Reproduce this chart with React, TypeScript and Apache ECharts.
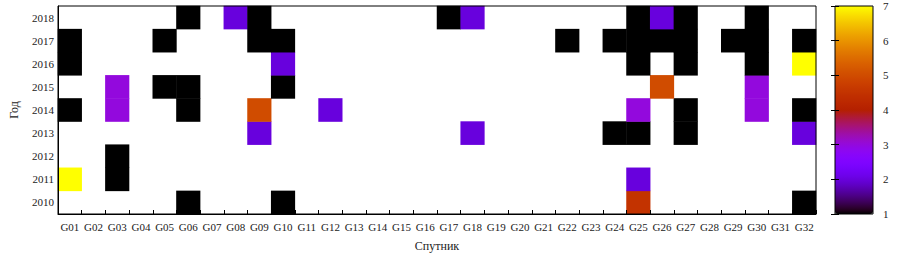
import React, { useEffect, useRef } from "react";
import * as echarts from "echarts";

const satellites = [
  "G01","G02","G03","G04","G05","G06","G07","G08","G09","G10","G11","G12","G13","G14","G15","G16",
  "G17","G18","G19","G20","G21","G22","G23","G24","G25","G26","G27","G28","G29","G30","G31","G32",
];
const years = ["2010","2011","2012","2013","2014","2015","2016","2017","2018"];

// values per year: [satellite, value]
const y2010: [string, number][] = [["G06",1],["G10",1],["G25",4.5],["G32",1]];
const y2011: [string, number][] = [["G01",7],["G03",1],["G25",2]];
const y2012: [string, number][] = [["G03",1]];
const y2013: [string, number][] = [["G09",2],["G18",2],["G24",1],["G25",1],["G27",1],["G32",2]];
const y2014: [string, number][] = [["G01",1],["G03",3],["G06",1],["G09",5],["G12",2],["G25",3],["G27",1],["G30",3],["G32",1]];
const y2015: [string, number][] = [["G03",3],["G05",1],["G06",1],["G10",1],["G26",5],["G30",3]];
const y2016: [string, number][] = [["G01",1],["G10",2],["G25",1],["G27",1],["G30",1],["G32",7]];
const y2017: [string, number][] = [["G01",1],["G05",1],["G09",1],["G10",1],["G22",1],["G24",1],["G25",1],["G26",1],["G27",1],["G29",1],["G30",1],["G32",1]];
const y2018: [string, number][] = [["G06",1],["G08",2],["G09",1],["G17",1],["G18",2],["G25",1],["G26",2],["G27",1],["G30",1]];

const byYear = [y2010, y2011, y2012, y2013, y2014, y2015, y2016, y2017, y2018];
const colorTicks = [1, 7];

function gnuplotColor(x: number): string {
  const r = Math.sqrt(x);
  const g = x * x * x;
  const b = Math.max(0, Math.sin(2 * Math.PI * x));
  const h = (v: number) => Math.round(Math.min(1, Math.max(0, v)) * 255).toString(16).padStart(2, "0");
  return "#" + h(r) + h(g) + h(b);
}

export default function App() {
  const ref = useRef<HTMLDivElement>(null);
  useEffect(() => {
    if (!ref.current) return;
    const chart = echarts.init(ref.current, null, { renderer: "svg" });
    const data: [number, number, number][] = [];
    byYear.forEach((rows, yi) => {
      rows.forEach(([s, v]) => data.push([satellites.indexOf(s), yi, v]));
    });
    const palette: string[] = [];
    for (let i = 0; i <= 48; i++) palette.push(gnuplotColor(i / 48));
    const font = "Liberation Serif";
    const txt = { fontFamily: font, fontSize: 11, color: "#222" };
    chart.setOption({
      animation: false,
      backgroundColor: "#fff",
      textStyle: { fontFamily: font },
      grid: [
        { left: 46, top: 6, width: 770, height: 208, show: true, borderColor: "#000", borderWidth: 1, z: 10 },
        { left: 835, top: 6, width: 38, height: 208, show: true, borderColor: "#000", borderWidth: 1, z: 10 },
      ],
      xAxis: [
        {
          type: "category",
          gridIndex: 0,
          data: satellites,
          name: "Спутник",
          nameLocation: "middle",
          nameGap: 26,
          nameTextStyle: { ...txt, fontSize: 12 },
          axisLine: { show: true, lineStyle: { color: "#000" } },
          axisTick: { show: true, inside: true, length: 4, lineStyle: { color: "#000" } },
          axisLabel: { ...txt, margin: 7, interval: 0 },
          splitLine: { show: false },
          z: 10,
        },
        { type: "value", gridIndex: 1, show: false, min: 0, max: 1 },
      ],
      yAxis: [
        {
          type: "category",
          gridIndex: 0,
          data: years,
          name: "Год",
          nameLocation: "middle",
          nameGap: 38,
          nameRotate: 90,
          nameTextStyle: { ...txt, fontSize: 12 },
          axisLine: { show: true, lineStyle: { color: "#000" } },
          axisTick: { show: false },
          axisLabel: { ...txt, margin: 4 },
          splitLine: { show: false },
          z: 10,
        },
        {
          type: "value",
          gridIndex: 1,
          position: "right",
          min: colorTicks[0],
          max: colorTicks[1],
          interval: 1,
          axisLine: { show: false },
          axisTick: { show: true, inside: true, length: 4, lineStyle: { color: "#000" } },
          axisLabel: { ...txt, margin: 10 },
          splitLine: { show: false },
          z: 10,
        },
        {
          type: "value",
          gridIndex: 1,
          position: "left",
          min: colorTicks[0],
          max: colorTicks[1],
          interval: 1,
          axisLine: { show: false },
          axisTick: { show: true, inside: true, length: 4, lineStyle: { color: "#000" } },
          axisLabel: { show: false },
          splitLine: { show: false },
          z: 10,
        },
      ],
      visualMap: {
        type: "continuous",
        seriesIndex: 0,
        min: colorTicks[0],
        max: colorTicks[1],
        calculable: false,
        show: true,
        orient: "vertical",
        left: 835,
        top: 6,
        itemWidth: 38,
        itemHeight: 208,
        padding: 0,
        text: null,
        inRange: { color: palette },
      },
      series: [
        {
          type: "heatmap",
          xAxisIndex: 0,
          yAxisIndex: 0,
          data,
          emphasis: { disabled: true },
          itemStyle: { borderWidth: 0 },
        },
        {
          type: "scatter",
          xAxisIndex: 1,
          yAxisIndex: 1,
          data: [],
          silent: true,
        },
      ],
    });
    return () => chart.dispose();
  }, []);
  return (
    <div
      ref={ref}
      style={{ position: "absolute", left: 0, top: 0, width: 908, height: 262 }}
    />
  );
}
